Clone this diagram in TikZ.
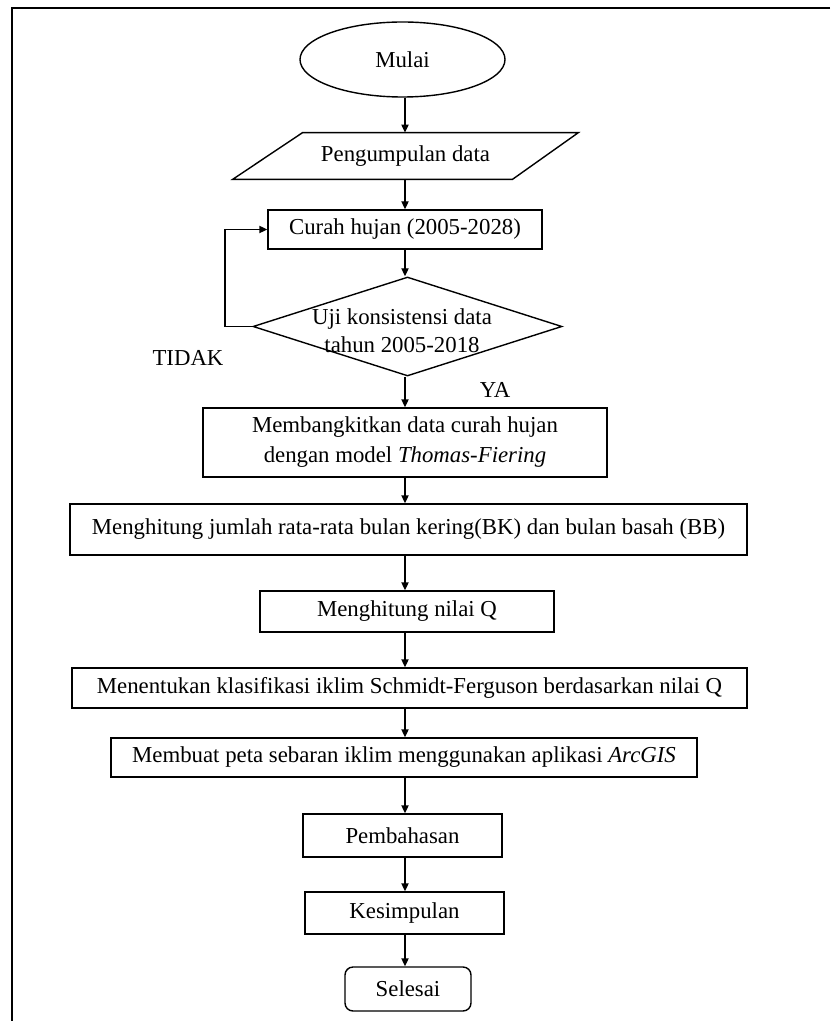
\documentclass[tikz,border=0pt]{standalone}
\usepackage{fontspec}
\setmainfont{Liberation Serif}
\usetikzlibrary{shapes.geometric}
\usetikzlibrary{arrows.meta}
\usetikzlibrary{positioning}

\begin{document}
\begin{tikzpicture}[x=0.5pt,y=-0.5pt]
\tikzset{teks/.style={inner sep=0pt,align=center,font=\fontsize{11.4}{14}\selectfont},
kotak/.style={teks,rectangle,draw,line width=0.7pt},
panah/.style={line width=0.7pt,-{Triangle[length=4pt,width=3.6pt]}}}
\useasboundingbox (0,0) rectangle (830,1021);
\draw[line width=1.2pt](830,8) -- (12,8) -- (12,1021);
\coordinate(sumbu) at (405,0);
\node[kotak,ellipse,minimum width=102.5pt,minimum height=37.5pt](mulai) at (402.5,59.5){Mulai};
\node[teks,minimum width=172.5pt,minimum height=23pt](kumpul) at (405.5,156){Pengumpulan data};
\draw[line width=0.7pt](kumpul.south west) -- ([xshift=35pt]kumpul.north west) -- (kumpul.north east) -- ([xshift=-33pt]kumpul.south east) -- cycle;
\draw[panah](sumbu |- mulai.south) -- (sumbu |- kumpul.north);
\node[kotak,minimum width=137pt,minimum height=19.5pt](curah) at (405,229.5){Curah hujan (2005-2028)};
\draw[panah](sumbu |- kumpul.south) -- (sumbu |- curah.north);
\node[diamond,draw,line width=0.7pt,minimum width=154.5pt,minimum height=49.5pt,inner sep=0pt](uji) at (407.5,326.5){};
\node[teks](ujiteks) at (402,331){Uji konsistensi data\\tahun 2005-2018};
\draw[panah](sumbu |- curah.south) -- (sumbu |- uji.north);
\coordinate(belok) at (225,326.5);
\draw[panah](uji.west) -- (belok) |- (curah.west);
\node[teks](tidak) at (188,358){TIDAK};
\node[teks](ya) at (495,390){YA};
\node[kotak,font=\fontsize{11.4}{15}\selectfont,minimum width=202pt,minimum height=34.5pt](bangkit) at (405,442.5){Membangkitkan data curah hujan\\dengan model \textit{Thomas-Fiering}};
\draw[panah](sumbu |- uji.south) -- (sumbu |- bangkit.north);
\node[kotak,minimum width=338.5pt,minimum height=25.5pt](jumlah) at (408.5,529.5){Menghitung jumlah rata-rata bulan kering(BK) dan bulan basah (BB)};
\draw[panah](sumbu |- bangkit.south) -- (sumbu |- jumlah.north);
\node[kotak,minimum width=147pt,minimum height=20.5pt](nilaiq) at (407,611.5){Menghitung nilai Q};
\draw[panah](sumbu |- jumlah.south) -- (sumbu |- nilaiq.north);
\node[kotak,minimum width=337.5pt,minimum height=20pt](klasifikasi) at (409.5,688){Menentukan klasifikasi iklim Schmidt-Ferguson berdasarkan nilai Q};
\draw[panah](sumbu |- nilaiq.south) -- (sumbu |- klasifikasi.north);
\node[kotak,minimum width=293pt,minimum height=19.5pt](peta) at (404,757.5){Membuat peta sebaran iklim menggunakan aplikasi \textit{ArcGIS}};
\draw[panah](sumbu |- klasifikasi.south) -- (sumbu |- peta.north);
\node[kotak,minimum width=99.5pt,minimum height=21.5pt](bahas) at (402.5,835.5){Pembahasan};
\draw[panah](sumbu |- peta.south) -- (sumbu |- bahas.north);
\node[kotak,minimum width=99.5pt,minimum height=21pt](simpul) at (404.5,913){Kesimpulan};
\draw[panah](sumbu |- bahas.south) -- (sumbu |- simpul.north);
\node[kotak,rounded corners=4pt,minimum width=63pt,minimum height=22pt](selesai) at (408,989){Selesai};
\draw[panah](sumbu |- simpul.south) -- (sumbu |- selesai.north);
\end{tikzpicture}
\end{document}
